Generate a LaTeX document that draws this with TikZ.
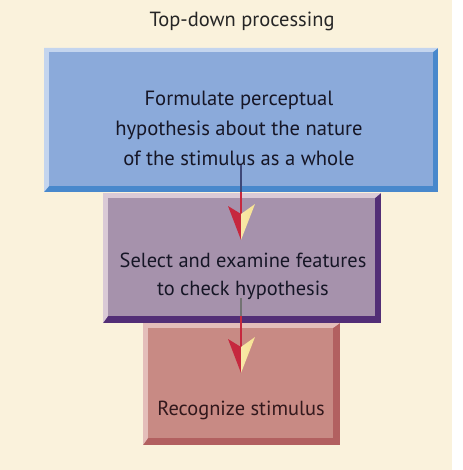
\documentclass[tikz,border=0pt]{standalone}
\usepackage{fontspec}
\setmainfont{PT Sans}
\definecolor{bg}{RGB}{250,242,220}
\definecolor{bluefc}{RGB}{139,170,218}
\definecolor{bluelt}{RGB}{196,213,238}
\definecolor{bluedk}{RGB}{72,136,204}
\definecolor{purfc}{RGB}{166,146,172}
\definecolor{purlt}{RGB}{218,202,214}
\definecolor{purdk}{RGB}{82,46,118}
\definecolor{redfc}{RGB}{200,138,132}
\definecolor{redlt}{RGB}{228,190,186}
\definecolor{reddk}{RGB}{178,96,96}
\definecolor{arrred}{RGB}{198,40,62}
\definecolor{arryel}{RGB}{246,226,146}
\definecolor{shaftblue}{RGB}{62,72,120}
\definecolor{txt}{RGB}{22,22,38}
\tikzset{
  face/.style={inner sep=0pt, outer sep=0pt},
  lbl/.style={inner sep=0pt, align=center, text=txt},
  barb/.pic={
    \fill[arrred] (0,0) -- (-13,-34) -- (0,-26) -- cycle;
    \shade[left color=arryel!80!white, right color=arryel] (0,0) -- (0,-26) -- (14,-36) -- cycle;
  }
}
\begin{document}
\begin{tikzpicture}[x=1pt,y=-1pt]
\useasboundingbox (0,0) rectangle (462,470);
\fill[white] (0,0) rectangle (462,470);
\fill[bg] (0,0) rectangle (452,470);
% title
\node[lbl, anchor=base, font=\fontsize{20.5}{24}\selectfont, text=black!85] (title) at (242,27) {Top-down processing};
% red box (behind purple)
\fill[reddk] (143,323) rectangle (340,445);
\fill[redlt] (143,323) -- (340,323) -- (333,328) -- (148,328) -- (148,438) -- (143,445) -- cycle;
\node[face, fill=redfc, minimum width=185pt, minimum height=110pt] (red) at (240.5,383) {};
% purple box
\fill[purdk] (103,193) rectangle (381,323);
\fill[purlt] (103,193) -- (381,193) -- (375,198) -- (108,198) -- (108,316) -- (103,323) -- cycle;
\node[face, fill=purfc, minimum width=267pt, minimum height=118pt] (purple) at (241.5,257) {};
% blue box
\fill[bluedk] (44,48) rectangle (438,192);
\fill[bluelt] (44,48) -- (438,48) -- (433,52) -- (49,52) -- (49,186) -- (44,192) -- cycle;
\node[face, fill=bluefc, minimum width=384pt, minimum height=134pt] (blue) at (241,119) {};
% texts
\node[lbl, font=\fontsize{20.6}{30}\selectfont] (blueT) at (239,128) {Formulate perceptual\\hypothesis about the nature\\of the stimulus as a whole};
\node[lbl, font=\fontsize{20.4}{28}\selectfont] (purT) at (243,276) {Select and examine features\\to check hypothesis};
\node[lbl, font=\fontsize{20.4}{24}\selectfont, text={rgb,255:red,50;green,24;blue,28}, anchor=base] (redT) at (241,415) {Recognize stimulus};
% arrow 1
\coordinate (a1s) at (241,165);
\coordinate (a1m) at (241,192);
\coordinate (a1e) at (241,214);
\draw[shaftblue, line width=1.8pt] (a1s) -- (a1m);
\draw[arrred, line width=1.8pt] (a1m) -- (a1e);
\pic at (241,240) {barb};
% arrow 2
\coordinate (a2s) at (241,298);
\coordinate (a2m) at (241,316);
\coordinate (a2e) at (241,347);
\draw[black!55, line width=1.8pt] (a2s) -- (a2m);
\draw[arrred, line width=1.8pt] (a2m) -- (a2e);
\pic at (241,373) {barb};
\end{tikzpicture}
\end{document}
